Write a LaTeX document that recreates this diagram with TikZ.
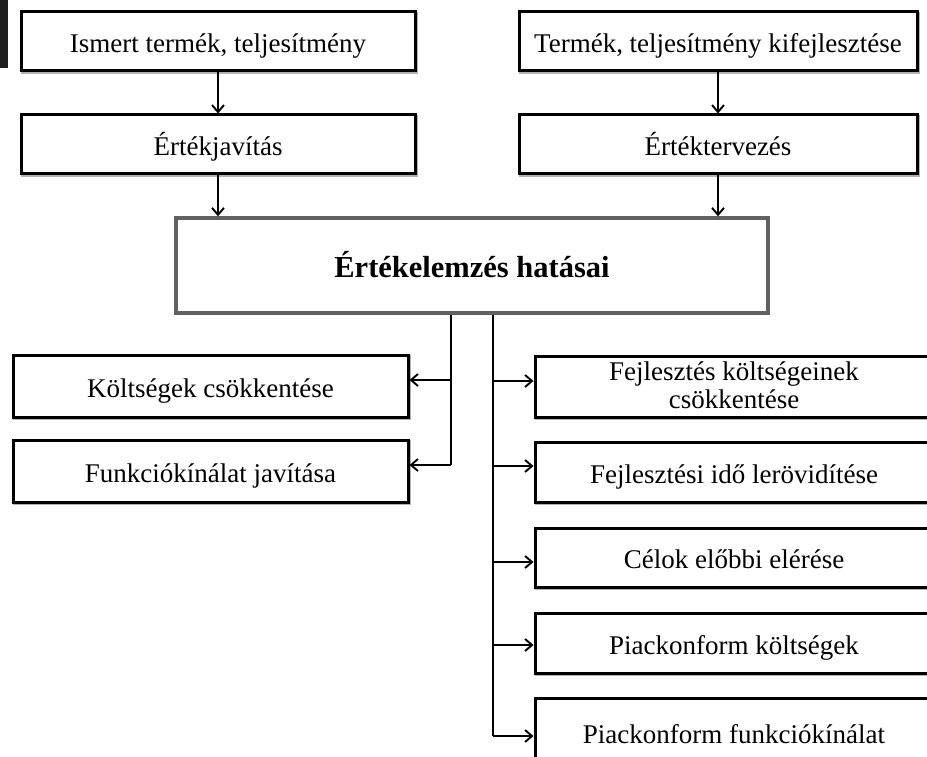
\documentclass[tikz,border=0pt]{standalone}
\usepackage{fontspec}
\setmainfont{Liberation Serif}
\usetikzlibrary{arrows.meta,shadows}
\tikzset{
  box/.style={draw=black, line width=3pt, fill=white, inner sep=0pt, anchor=center,
    font=\fontsize{27}{28}\selectfont, align=center, text height=22pt, text depth=0pt,
    general shadow={fill=none, draw=black!30, line width=2.6pt, shadow xshift=1.2pt, shadow yshift=-1.4pt}},
  twoline/.style={text height=43pt, text depth=0pt},
  mainbox/.style={draw=black!62, line width=3.4pt, fill=white, inner sep=0pt, anchor=center,
    text height=23pt, text depth=0pt,
    font=\fontsize{30.5}{34}\selectfont\bfseries},
  conn/.style={line width=1.9pt, black},
  arr/.style={conn, -{Straight Barb[length=7pt,width=12pt,line width=1.9pt]}}
}
\begin{document}
\begin{tikzpicture}[x=1pt,y=-1pt]
\useasboundingbox (0,0) rectangle (927,757);
\clip (0,0) rectangle (927,757);
\fill[white] (0,0) rectangle (927,757);
\fill[black!88] (0,0) rectangle (8,68);

\node[box, minimum width=394pt, minimum height=59pt] (A) at (218,41.5) {Ismert termék, teljesítmény};
\node[box, minimum width=394pt, minimum height=59pt] (B) at (218,144.5) {Értékjavítás};
\node[box, minimum width=398pt, minimum height=59pt] (C) at (718,41.5) {Termék, teljesítmény kifejlesztése};
\node[box, minimum width=398pt, minimum height=59pt] (D) at (718,144.5) {Értéktervezés};
\node[mainbox, minimum width=592pt, minimum height=95pt] (M) at (472,265.5) {Értékelemzés hatásai};

\node[box, minimum width=395pt, minimum height=62pt] (L1) at (210.5,386) {Költségek csökkentése};
\node[box, minimum width=395pt, minimum height=62pt] (L2) at (210.5,471) {Funkciókínálat javítása};

\node[box, twoline, minimum width=398pt, minimum height=61pt] (R1) at (734,386.5) {Fejlesztés költségeinek\\csökkentése};
\node[box, minimum width=398pt, minimum height=60pt] (R2) at (734,472) {Fejlesztési idő lerövidítése};
\node[box, minimum width=398pt, minimum height=59pt] (R3) at (734,557.5) {Célok előbbi elérése};
\node[box, minimum width=398pt, minimum height=60pt] (R4) at (734,643) {Piackonform költségek};
\node[box, minimum width=398pt, minimum height=68pt] (R5) at (734,732) {Piackonform funkciókínálat};

\draw[arr] (A) -- (B);
\draw[arr] (C) -- (D);
\draw[arr] (B.south) -- (B.south |- M.north);
\draw[arr] (D.south) -- (D.south |- M.north);

\coordinate (lt) at (451,465);
\coordinate (rt) at (493,736);
\coordinate (l1p) at ([yshift=6pt]L1.east);
\coordinate (l2p) at ([yshift=6pt]L2.east);
\coordinate (r1p) at ([yshift=5.5pt]R1.west);
\coordinate (r2p) at ([yshift=6pt]R2.west);
\coordinate (r3p) at ([yshift=-4.5pt]R3.west);
\coordinate (r4p) at ([yshift=-2pt]R4.west);
\coordinate (r5p) at ([yshift=-4pt]R5.west);

\draw[conn] (M.south -| lt) -- (l2p -| lt);
\draw[conn] (M.south -| rt) -- (r5p -| rt);
\draw[arr] (l1p -| lt) -- (l1p);
\draw[arr] (l2p -| lt) -- (l2p);
\draw[arr] (r1p -| rt) -- (r1p);
\draw[arr] (r2p -| rt) -- (r2p);
\draw[arr] (r3p -| rt) -- (r3p);
\draw[arr] (r4p -| rt) -- (r4p);
\draw[arr] (r5p -| rt) -- (r5p);
\end{tikzpicture}
\end{document}
